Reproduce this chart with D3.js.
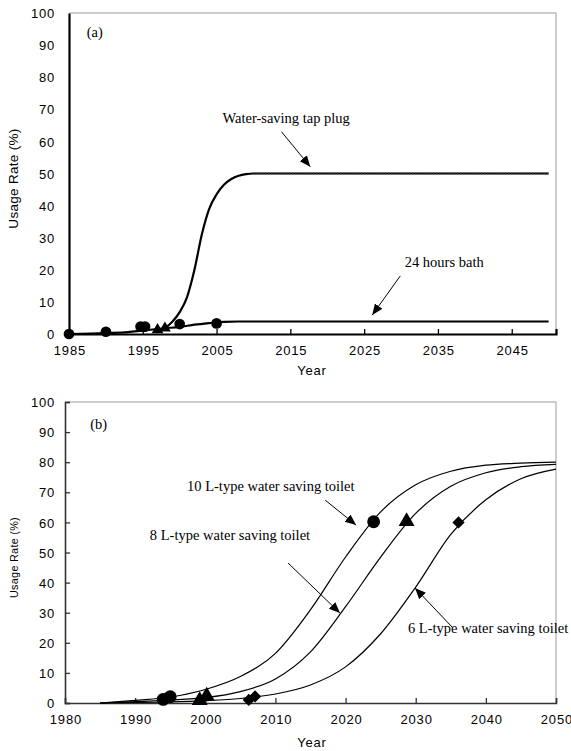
<!DOCTYPE html>
<html>
<head>
<meta charset="utf-8">
<script src="https://cdn.jsdelivr.net/npm/d3@7"></script>
<style>
  body { margin: 0; background: #fff; }
  .tick-label { font-family: "Liberation Sans", Arial, sans-serif; font-size: 13px; letter-spacing: 0.8px; fill: #000; }
  .note { font-family: "Liberation Serif", "Times New Roman", serif; font-size: 14.5px; fill: #000; }
</style>
</head>
<body>
<svg id="chart" width="571" height="751"></svg>
<script>
// ---- panel (a) data ----
let tapYears = [1997, 1998, 1999, 2000, 2001, 2002, 2003, 2004, 2005, 2006, 2007, 2008, 2009, 2010, 2020, 2050];
let tapRate  = [0.6, 1.8, 3.8, 6.8, 11.5, 20, 31, 39, 43.5, 46.5, 48.3, 49.3, 49.8, 50, 50, 50];
let tapFlatYears = [2010, 2050];
let tapFlatRate  = [50, 50];
let tapMarkYears = [1997, 1998];
let tapMarkRate  = [1, 1.5];

let bathYears = [1985, 1990, 1993, 1995, 1998, 2000, 2002, 2004, 2006, 2008, 2050];
let bathRate  = [0, 0.3, 0.6, 1.1, 1.8, 2.2, 2.9, 3.4, 3.8, 3.9, 3.9];
let bathMarkYears = [1985, 1990, 1994.7, 1995.3, 2000, 2005];
let bathMarkRate  = [0, 0.7, 2.3, 2.3, 3.1, 3.3];

let ticksA = [1985, 1995, 2005, 2015, 2025, 2035, 2045];

// ---- panel (b) data ----
let toiletYears = [1985, 1990, 1995, 2000, 2005, 2010, 2015, 2020, 2025, 2030, 2035, 2040, 2045, 2050];
let toilet10 = [0, 0.9, 2, 4.5, 8.8, 16.5, 31, 48.5, 63.5, 72.5, 77, 79, 79.7, 80];
let toilet8  = [0, 0.5, 1, 1.8, 3.8, 8, 17, 32, 48.5, 63, 72, 76.5, 78.5, 79.3];
let toilet6  = [0, 0.2, 0.4, 0.8, 1.5, 3, 6, 12, 23, 38.5, 56, 67.5, 74.5, 77.7];
let mark10Years = [1994, 1995, 2024];
let mark10Rate  = [1.2, 2.1, 60.2];
let mark8Years  = [1999.2, 2000.2, 2028.7];
let mark8Rate   = [0.5, 2, 60];
let mark6Years  = [2006.2, 2007.1, 2036.1];
let mark6Rate   = [1, 2.2, 60];

let ticksB = [1980, 1990, 2000, 2010, 2020, 2030, 2040, 2050];
let yTicks = [0, 10, 20, 30, 40, 50, 60, 70, 80, 90, 100];

// annotations: [text, textYear, textRate, fromYear, fromRate, toYear, toRate]
let notesA = [
  ["Water-saving tap plug", 2005.8, 65.7, 2013.8, 63, 2017.7, 52.1],
  ["24 hours bath", 2030.5, 21, 2029.9, 18.1, 2026.1, 5.9]
];
let notesB = [
  ["10 L-type water saving toilet", 1997.4, 70.4, 2017.1, 67.4, 2021.5, 59.1],
  ["8 L-type water saving toilet", 1992.1, 54.2, 2011.8, 46.5, 2019.2, 29.9],
  ["6 L-type water saving toilet", 2028.9, 23.3, 2035.2, 25.2, 2029.9, 38.2]
];

function zip(xs, ys) { return xs.map((x, i) => ({x: x, y: ys[i]})); }

let svg = d3.select("#chart");

svg.append("defs").append("marker")
   .attr("id", "head")
   .attr("viewBox", "0 0 10 10")
   .attr("refX", 10).attr("refY", 5)
   .attr("markerWidth", 11).attr("markerHeight", 11)
   .attr("markerUnits", "userSpaceOnUse")
   .attr("orient", "auto")
   .append("path").attr("d", "M0,0.8 L10,5 L0,9.2 Z").attr("fill", "#000");

function panel(opt) {
  let x = d3.scaleLinear().domain(opt.xDomain).range([opt.left, opt.right]);
  let y = d3.scaleLinear().domain([0, 100]).range([opt.bottom, opt.top]);
  let g = svg.append("g");

  // frame top + right
  g.append("path")
   .attr("d", `M${opt.left},${opt.top}H${opt.right}V${opt.bottom}`)
   .attr("fill", "none").attr("stroke", "#bdbdbd").attr("stroke-width", 1.5);

  // x axis
  let xAxis = d3.axisBottom(x).tickValues(opt.xTicks).tickSize(-5).tickPadding(12).tickFormat(d3.format("d"));
  let gx = g.append("g").attr("transform", `translate(0,${opt.bottom})`).call(xAxis);
  gx.select(".domain").attr("stroke", opt.axisColor).attr("stroke-width", opt.axisWidth);
  gx.selectAll(".tick line").attr("stroke", opt.axisColor).attr("stroke-width", 1.3);
  gx.selectAll(".tick text").attr("class", "tick-label").attr("font-family", null).attr("font-size", null)
    .attr("dx", "0.4px");

  // y axis
  let yAxis = d3.axisLeft(y).tickValues(yTicks).tickSize(opt.yTickSize);
  let gy = g.append("g").attr("transform", `translate(${opt.left},0)`).call(yAxis);
  gy.select(".domain").attr("stroke", opt.axisColor).attr("stroke-width", opt.axisWidth);
  gy.selectAll(".tick line").attr("stroke", opt.axisColor).attr("stroke-width", 1.3);
  gy.selectAll(".tick text").attr("class", "tick-label").attr("font-family", null).attr("font-size", null)
    .attr("x", 55 - opt.left).attr("dy", "0.36em");

  // axis titles
  g.append("text").attr("class", "tick-label")
   .attr("transform", `translate(${opt.yTitleX},${(opt.top + opt.bottom) / 2 + 5}) rotate(-90)`)
   .attr("text-anchor", "middle").style("font-size", opt.yTitleSize + "px").style("letter-spacing", "0.3px")
   .text("Usage Rate (%)");
  g.append("text").attr("class", "tick-label")
   .attr("x", 312).attr("y", opt.yearY).attr("text-anchor", "middle")
   .text("Year");

  // panel label
  g.append("text").attr("class", "note")
   .attr("x", x(opt.tag[1])).attr("y", y(opt.tag[2]))
   .text(opt.tag[0]);

  let line = d3.line().x(d => x(d.x)).y(d => y(d.y)).curve(d3.curveMonotoneX);

  opt.series.forEach(s => {
    g.append("path").datum(s.data)
     .attr("d", line)
     .attr("fill", "none")
     .attr("stroke", s.color || "#000")
     .attr("stroke-width", s.width)
     .attr("stroke-dasharray", s.dash || null);
  });

  opt.marks.forEach(m => {
    let sym = d3.symbol().type(m.type).size(m.size);
    g.selectAll(null).data(m.data).enter().append("path")
     .attr("transform", d => `translate(${x(d.x)},${y(d.y) + (m.shift || 0)})${m.type === d3.symbolSquare ? " rotate(45)" : ""}`)
     .attr("d", sym)
     .attr("fill", "#000");
  });

  opt.notes.forEach(n => {
    g.append("text").attr("class", "note")
     .attr("x", x(n[1])).attr("y", y(n[2]))
     .text(n[0]);
    g.append("line")
     .attr("x1", x(n[3])).attr("y1", y(n[4]))
     .attr("x2", x(n[5])).attr("y2", y(n[6]))
     .attr("stroke", "#000").attr("stroke-width", 1)
     .attr("marker-end", "url(#head)");
  });
}

panel({
  xDomain: [1985, 2051], left: 69, right: 556, top: 13, bottom: 334,
  xTicks: ticksA, axisColor: "#000", axisWidth: 2.2, yTickSize: 0,
  yTitleX: 18, yTitleSize: 13.5, yearY: 375,
  tag: ["(a)", 1987.4, 92.5],
  series: [
    {data: zip(bathYears, bathRate), width: 2.2},
    {data: zip(tapYears, tapRate), width: 2.2},
    {data: zip(tapFlatYears, tapFlatRate), width: 3.2, dash: "0.8,2.2", color: "#555"}
  ],
  marks: [
    {data: zip(bathMarkYears, bathMarkRate), type: d3.symbolCircle, size: 90},
    {data: zip(tapMarkYears, tapMarkRate), type: d3.symbolTriangle, size: 60, shift: -1}
  ],
  notes: notesA
});

panel({
  xDomain: [1980, 2050], left: 65, right: 556, top: 402, bottom: 703,
  xTicks: ticksB, axisColor: "#333", axisWidth: 1.6, yTickSize: -5,
  yTitleX: 18, yTitleSize: 10.8, yearY: 747,
  tag: ["(b)", 1983.6, 91],
  series: [
    {data: zip(toiletYears, toilet10), width: 1.2},
    {data: zip(toiletYears, toilet8), width: 1.2},
    {data: zip(toiletYears, toilet6), width: 1.2}
  ],
  marks: [
    {data: zip(mark10Years, mark10Rate), type: d3.symbolCircle, size: 130},
    {data: zip(mark8Years, mark8Rate), type: d3.symbolTriangle, size: 110, shift: -1},
    {data: zip(mark6Years, mark6Rate), type: d3.symbolSquare, size: 75}
  ],
  notes: notesB
});
</script>
</body>
</html>
